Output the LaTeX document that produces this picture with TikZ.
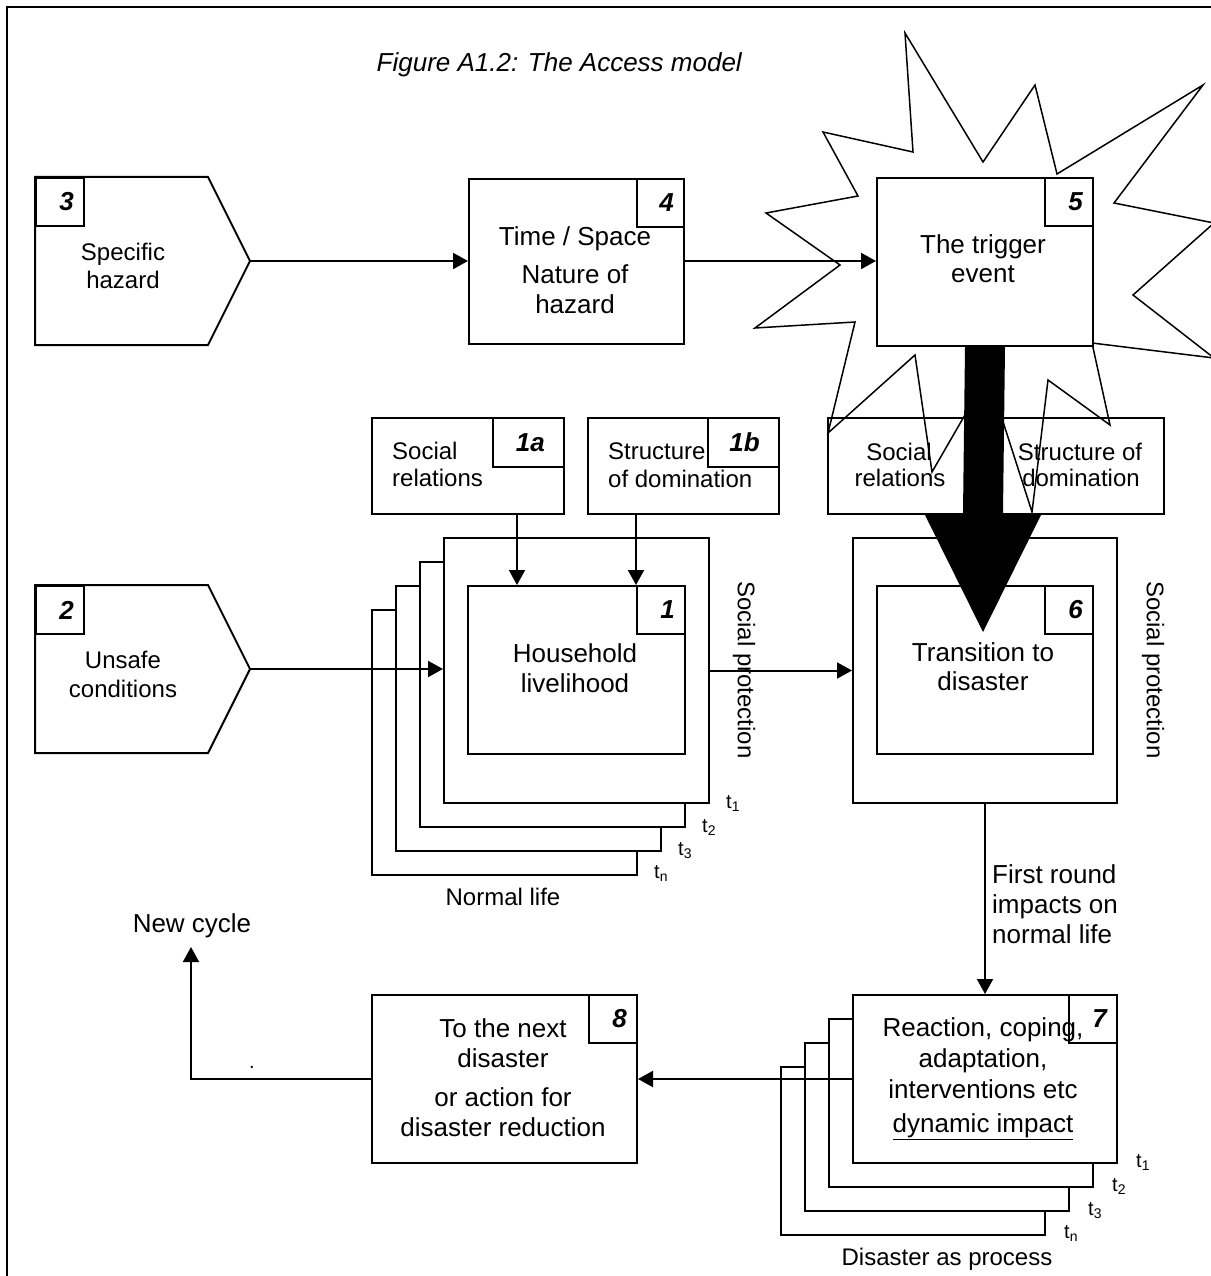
\documentclass[tikz,border=0pt]{standalone}
\usepackage{fontspec}
\setmainfont{Liberation Sans}
\usetikzlibrary{arrows.meta,calc}
\newcommand\fbig{\fontsize{26}{30}\selectfont}
\newcommand\fmid{\fontsize{24}{28}\selectfont}
\newcommand\fsml{\fontsize{20}{22}\selectfont}
\begin{document}
\begin{tikzpicture}[x=1pt,y=-1pt,
  box/.style={draw, line width=2pt, fill=white, inner sep=0pt, anchor=north west},
  ln/.style={line width=2pt},
  arr/.style={line width=2pt, -{Triangle[length=15pt,width=16pt]}},
  tb/.style={inner sep=0pt, anchor=base, font=\fbig},
  tm/.style={inner sep=0pt, anchor=base, font=\fmid},
  ts/.style={inner sep=0pt, anchor=base west, font=\fsml},
  num/.style={inner sep=0pt, anchor=east, font=\fbig\bfseries\itshape},
  starline/.style={line width=1.5pt, line join=miter}]
\useasboundingbox (0,0) rectangle (1210,1276);
\fill[white] (0,0) rectangle (1210,1276);
% frame
\draw[line width=2.5pt] (1212,7) -- (7,7) -- (7,1280);
% title
\node[inner sep=0pt, anchor=base east, font=\fbig\itshape] (title) at (742,72) {Figure A1.2: The Access model};

% ---- right social boxes (under the star)
\node[box, minimum width=168pt, minimum height=96pt] (rs1) at (827,417) {};
\node[box, minimum width=168pt, minimum height=96pt] (rs2) at (995,417) {};
\node[tm] (rs1a) at (899,460) {Social};
\node[tm] (rs1b) at (900,486) {relations};
\node[tm] (rs2a) at (1080,460) {Structure of};
\node[tm] (rs2b) at (1081,486) {domination};

% ---- star
\draw[starline] (905,33) -- (983,162) -- (1035,85) -- (1057,174) -- (1203,85) -- (1114,203)
  -- (1214,223) -- (1133,295) -- (1214,358) -- (1092,343) -- (1110,425) -- (1048,380)
  -- (1032,512) -- (988,375) -- (932,472) -- (915,355) -- (828,433) -- (855,322)
  -- (755,328) -- (840,265) -- (766,213) -- (858,196) -- (823,132) -- (913,152) -- cycle;

% ---- box 5
\node[box, minimum width=216pt, minimum height=168pt] (b5) at (876,177) {};
\node[box, minimum width=48pt, minimum height=48pt] (n5) at (1044,177) {};
\node[num] (n5t) at ([xshift=-11pt]n5.east) {5};
\node[tb] (b5a) at (983,253) {The trigger};
\node[tb] (b5b) at (983,282) {event};

% ---- box 6
\node[box, minimum width=264pt, minimum height=265pt] (b6) at (852,537) {};
\node[box, minimum width=216pt, minimum height=168pt] (in6) at (876,585) {};
\node[box, minimum width=48pt, minimum height=48pt] (n6) at (1044,585) {};
\node[num] (n6t) at ([xshift=-11pt]n6.east) {6};
\node[tb] (b6a) at (983,661) {Transition to};
\node[tb] (b6b) at (983,690) {disaster};
\node[rotate=-90, inner sep=0pt, font=\fmid] (sp2) at (1153,670) {Social protection};

% ---- black arrow from 5 to 6
\fill[black] ([xshift=-20pt]b5.south) -- ([xshift=20pt]b5.south) -- (1003,513) -- (1042,513)
  -- (983,632) -- (924,513) -- (963,513) -- cycle;

% ---- pentagon 3
\draw[ln, fill=white] (35,177) -- (208,177) -- (250,261) coordinate (p3tip) -- (208,345) -- (35,345) -- cycle;
\node[box, minimum width=48pt, minimum height=48pt] (n3) at (35,177) {};
\node[num] (n3t) at ([xshift=-11pt]n3.east) {3};
\node[tm] (p3a) at (123,260) {Specific};
\node[tm] (p3b) at (123,288) {hazard};

% ---- box 4
\node[box, minimum width=215pt, minimum height=165pt] (b4) at (468,178) {};
\node[box, minimum width=47pt, minimum height=48pt] (n4) at (636,178) {};
\node[num] (n4t) at ([xshift=-11pt]n4.east) {4};
\node[tb] (b4a) at (575,245) {Time / Space};
\node[tb] (b4b) at (575,283) {Nature of};
\node[tb] (b4c) at (575,313) {hazard};

\draw[arr] (p3tip) -- (p3tip -| b4.west);
\draw[arr] (p3tip -| b4.east) -- (p3tip -| b5.west);

% ---- pentagon 2
\draw[ln, fill=white] (35,585) -- (208,585) -- (250,669) coordinate (p2tip) -- (208,753) -- (35,753) -- cycle;
\node[box, minimum width=48pt, minimum height=48pt] (n2) at (35,585) {};
\node[num] (n2t) at ([xshift=-11pt]n2.east) {2};
\node[tm] (p2a) at (123,668) {Unsafe};
\node[tm] (p2b) at (123,697) {conditions};

% ---- 1a / 1b
\node[box, minimum width=192pt, minimum height=96pt] (b1a) at (371,417) {};
\node[box, minimum width=71pt, minimum height=49pt] (n1a) at (492,417) {};
\node[num] (n1at) at ([xshift=-20pt]n1a.east) {1a};
\node[tm, anchor=base west] (b1aa) at (392,459) {Social};
\node[tm, anchor=base west] (b1ab) at (392,486) {relations};
\node[box, minimum width=191pt, minimum height=96pt] (b1b) at (587,417) {};
\node[box, minimum width=71pt, minimum height=49pt] (n1b) at (707,417) {};
\node[num] (n1bt) at ([xshift=-20pt]n1b.east) {1b};
\node[tm, anchor=base west] (b1ba) at (608,459) {Structure};
\node[tm, anchor=base west] (b1bb) at (608,487) {of domination};

% ---- stack 1
\node[box, minimum width=265pt, minimum height=265pt] (s4) at (371,609) {};
\node[box, minimum width=265pt, minimum height=265pt] (s3) at (395,585) {};
\node[box, minimum width=265pt, minimum height=265pt] (s2) at (419,561) {};
\node[box, minimum width=265pt, minimum height=265pt] (s1) at (443,537) {};
\node[box, minimum width=217pt, minimum height=168pt] (in1) at (467,585) {};
\node[box, minimum width=48pt, minimum height=48pt] (n1) at (636,585) {};
\node[num] (n1t) at ([xshift=-11pt]n1.east) {1};
\node[tb] (b1a1) at (575,662) {Household};
\node[tb] (b1a2) at (575,692) {livelihood};
\node[rotate=-90, inner sep=0pt, font=\fmid] (sp1) at (744,670) {Social protection};
\node[ts] (t1a) at (726,808) {t\textsubscript{1}};
\node[ts] (t2a) at (702,832) {t\textsubscript{2}};
\node[ts] (t3a) at (678,855) {t\textsubscript{3}};
\node[ts] (tna) at (654,878) {t\textsubscript{n}};
\node[tm] (nl) at (503,905) {Normal life};

\draw[arr] ([xshift=-48pt]b1a.south east) -- ([xshift=-48pt]b1a.south east |- in1.north);
\draw[arr] (n1.north west |- b1b.south) -- (n1.north west);
\draw[arr] (p2tip) -- (p2tip -| s1.west);
\draw[arr] (s1.east) -- (b6.west);

% ---- stack 7
\node[box, minimum width=264pt, minimum height=168pt] (r4) at (780,1066) {};
\node[box, minimum width=264pt, minimum height=168pt] (r3) at (804,1042) {};
\node[box, minimum width=264pt, minimum height=168pt] (r2) at (828,1018) {};
\node[box, minimum width=264pt, minimum height=168pt] (b7) at (852,994) {};
\node[box, minimum width=48pt, minimum height=48pt] (n7) at (1068,994) {};
\node[num] (n7t) at ([xshift=-11pt]n7.east) {7};
\node[tb] (b7a) at (983,1036) {Reaction, coping,};
\node[tb] (b7b) at (983,1067) {adaptation,};
\node[tb] (b7c) at (983,1098) {interventions etc};
\node[tb] (b7d) at (983,1132) {\underline{dynamic impact}};
\node[ts] (t1b) at (1136,1167) {t\textsubscript{1}};
\node[ts] (t2b) at (1112,1191) {t\textsubscript{2}};
\node[ts] (t3b) at (1088,1215) {t\textsubscript{3}};
\node[ts] (tnb) at (1064,1238) {t\textsubscript{n}};
\node[tm] (dap) at (947,1265) {Disaster as process};

\draw[arr] (b6.south) -- (b7.north);
\node[tb, anchor=base west] (fr1) at (992,883) {First round};
\node[tb, anchor=base west] (fr2) at (992,913) {impacts on};
\node[tb, anchor=base west] (fr3) at (992,943) {normal life};

% ---- box 8
\node[box, minimum width=265pt, minimum height=168pt] (b8) at (371,994) {};
\node[box, minimum width=48pt, minimum height=48pt] (n8) at (588,994) {};
\node[num] (n8t) at ([xshift=-11pt]n8.east) {8};
\node[tb] (b8a) at (503,1037) {To the next};
\node[tb] (b8b) at (503,1067) {disaster};
\node[tb] (b8c) at (503,1106) {or action for};
\node[tb] (b8d) at (503,1136) {disaster reduction};

\draw[arr] (b7.west) -- (b8.east);
\coordinate (nctip) at (191,947);
\draw[arr] (b8.west) -| (nctip);
\node[tb] (nc) at (192,932) {New cycle};
\node[inner sep=0pt, anchor=base, font=\fsml] (dot) at (252,1068) {.};
\end{tikzpicture}
\end{document}
